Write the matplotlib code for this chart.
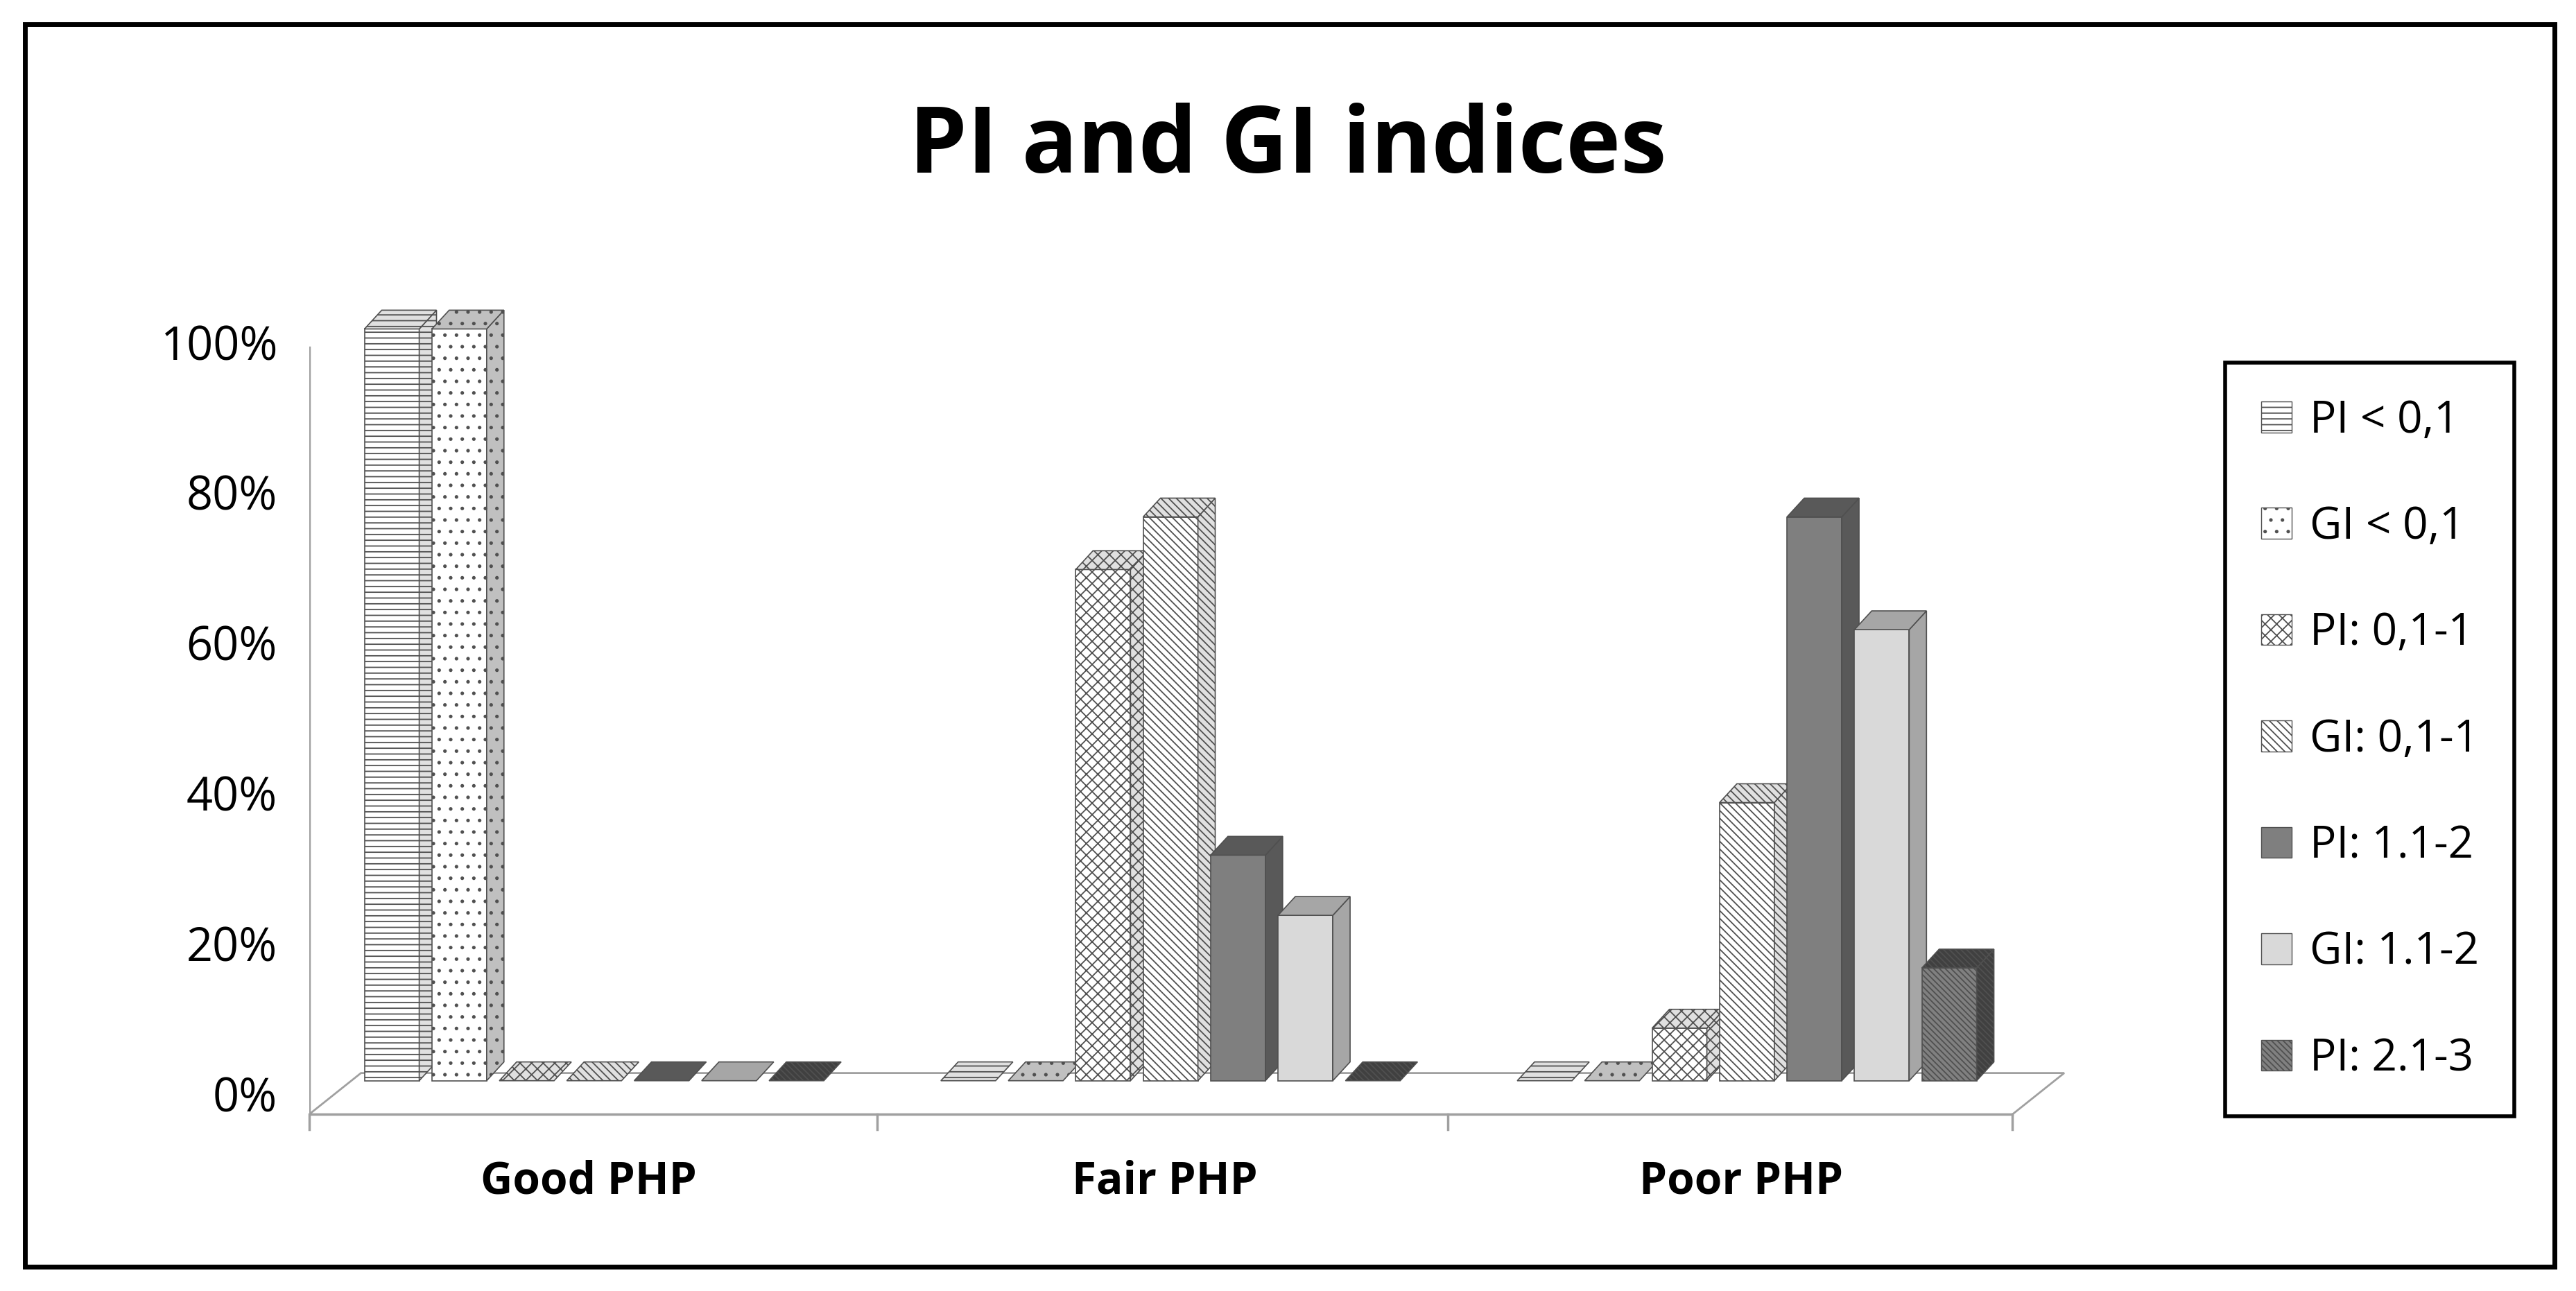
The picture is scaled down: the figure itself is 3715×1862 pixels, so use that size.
import matplotlib as mpl
mpl.use('Agg')
import matplotlib.pyplot as plt
from matplotlib.patches import Polygon, Rectangle, Patch

plt.rcParams['font.family'] = ['Open Sans', 'DejaVu Sans']
plt.rcParams['hatch.linewidth'] = 1.3

categories = ['Good PHP', 'Fair PHP', 'Poor PHP']
series = ['PI < 0,1', 'GI < 0,1', 'PI: 0,1-1', 'GI: 0,1-1', 'PI: 1.1-2', 'GI: 1.1-2', 'PI: 2.1-3']
values = [
    [100, 100, 0, 0, 0, 0, 0],   # Good PHP
    [0, 0, 68, 75, 30, 22, 0],   # Fair PHP
    [0, 0, 7, 37, 75, 60, 15],   # Poor PHP
]
y_ticks = [0, 20, 40, 60, 80, 100]

# face, side, hatch per series
styles = [
    ('white', '#e0e0e0', '--'),
    ('white', '#c0c0c0', '.'),
    ('white', '#e0e0e0', 'xx'),
    ('white', '#e0e0e0', '\\\\\\'),
    ('#7f7f7f', '#595959', None),
    ('#d9d9d9', '#a6a6a6', None),
    ('#808080', '#404040', '\\\\\\\\'),
]

fig = plt.figure(figsize=(37.15, 18.62), dpi=100)
ax = fig.add_axes([0.12, 0.131, 0.697, 0.658])
ax.set_xlim(-0.515, 2.6)
ax.set_ylim(-3, 110)
ax.axis('off')

w = 0.117      # slot width
fw = 0.095     # front width
dx, dy = 0.03, 2.5   # bar depth
fdx, fdy = 0.09, 5.5  # floor depth
b0 = fdy * 0.45
xo = fdx * 0.45

# floor
ax.add_patch(Polygon([(-0.515, -2), (2.44, -2), (2.44 + fdx, -2 + fdy), (-0.515 + fdx, -2 + fdy)],
                     closed=True, facecolor='white', edgecolor='#a0a0a0', lw=2, zorder=1))
# axes lines
ax.plot([-0.515, -0.515], [-2, 100], color='#a0a0a0', lw=2.5, zorder=1)
ax.plot([-0.515, 2.44], [-2, -2], color='#a0a0a0', lw=2.5, zorder=1)
for t in [-0.515, 0.47, 1.46, 2.44]:
    ax.plot([t, t], [-2, -4], color='#a0a0a0', lw=2.5, zorder=1, clip_on=False)
for t in y_ticks:
    ax.text(-0.57, t, f'{t}%', ha='right', va='center', fontsize=48)

for g, cat in enumerate(categories):
    c = g - 0.03
    for i, v in enumerate(values[g]):
        face, side, hatch = styles[i]
        x0 = c + (i - 3.5) * w + xo - 0.02
        top = b0 + v
        kw = dict(closed=True, edgecolor='#505050', lw=1.2, hatch=hatch, zorder=2 + i + g * 10)
        if v > 0:
            ax.add_patch(Polygon([(x0, b0), (x0 + fw, b0), (x0 + fw, top), (x0, top)], facecolor=face, **kw))
            ax.add_patch(Polygon([(x0 + fw, b0), (x0 + fw + dx, b0 + dy), (x0 + fw + dx, top + dy), (x0 + fw, top)],
                                 facecolor=side, **kw))
        ax.add_patch(Polygon([(x0, top), (x0 + fw, top), (x0 + fw + dx, top + dy), (x0 + dx, top + dy)],
                             facecolor=side, **kw))
    ax.text(g - 0.03, -11, cat, ha='center', va='center', fontsize=46, fontweight='bold')

fig.text(0.50, 0.885, 'PI and GI indices', ha='center', va='center', fontsize=96, fontweight='bold')

handles = [Patch(facecolor=s[0], edgecolor='#505050', hatch=s[2]) for s in styles]
leg = fig.legend(handles, series, loc='center', bbox_to_anchor=(0.92, 0.427), fontsize=46,
                 labelspacing=1.4, handlelength=0.7, handleheight=0.7, handletextpad=0.4,
                 borderpad=0.8, fancybox=False, framealpha=1)
leg.get_frame().set_edgecolor('black')
leg.get_frame().set_linewidth(4)

fig.add_artist(Rectangle((0.0096, 0.019), 0.982, 0.962, transform=fig.transFigure,
                         fill=False, edgecolor='black', lw=5))

fig.savefig('out.png', dpi=100)
